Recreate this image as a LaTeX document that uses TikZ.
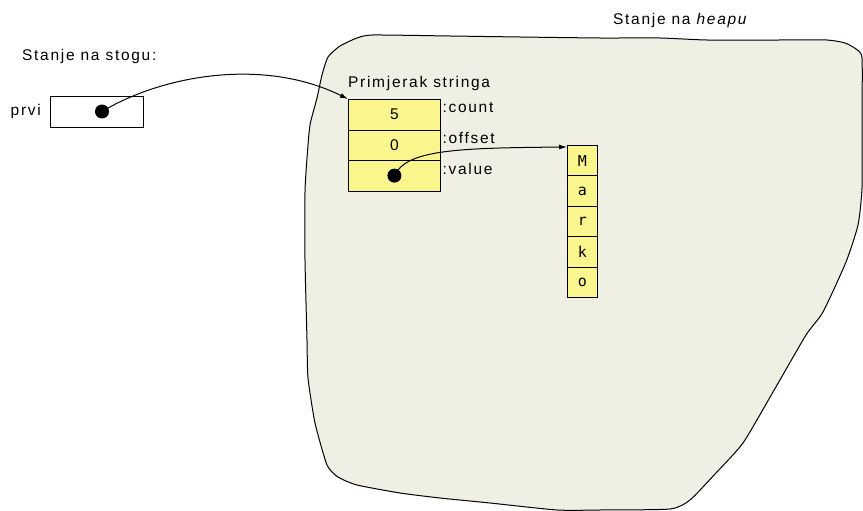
\documentclass[tikz,border=0pt]{standalone}
\usepackage{fontspec}
\setmainfont{Liberation Sans}[LetterSpace=11]
\setmonofont{DejaVu Sans Mono}
\usetikzlibrary{matrix,positioning,arrows.meta}
\definecolor{heapfill}{RGB}{240,239,228}
\definecolor{fieldfill}{RGB}{250,245,140}

\begin{document}
\begin{tikzpicture}[x=1pt, y=-1pt,
    font=\fontsize{15.5}{18}\selectfont,
    fld/.style={draw, fill=fieldfill, line width=0.8pt, anchor=center, outer sep=0, inner sep=0},
    dot/.style={circle, fill=black, minimum size=14pt, inner sep=0},
    lbl/.style={inner sep=2pt},
    ptr/.style={-{Latex[length=8pt,width=5pt]}, line width=1pt}
  ]
    \useasboundingbox (0,0) rectangle (863,511);
    \draw[fill=heapfill, line width=1pt] plot[smooth cycle, tension=0.35] coordinates {
        (373,35) (450,36) (520,37) (600,38) (660,38) (707,40) (780,40) (827,40)
        (845,43) (856,49) (862,58) (862,120) (862,188) (858,225) (846,262)
        (823,312) (806,335) (773,392) (743,443) (715,474) (690,500) (670,509)
        (600,510) (557,510) (490,503) (440,498) (400,493) (357,485) (338,477)
        (327,465) (315,423) (308,378) (307,340) (305,260) (305,192) (307,158)
        (310,125) (317,98) (322,75) (328,57) (340,46) (357,38)};
    \node[lbl, anchor=base west, inner sep=0] (stog) at (22,61) {Stanje na stogu:};
    \node[lbl, anchor=base west, inner sep=0] (heap) at (613,25) {Stanje na \textit{heapu}};
    \node[fld, fill=white, minimum width=93pt, minimum height=31pt] (prvi) at (96.5,111.5) {};
    \node[lbl, left=7pt of prvi] (prvilbl) {prvi};
    \node[dot] (d1) at ([xshift=5.5pt]prvi.center) {};
    \matrix (S) [matrix of nodes, anchor=north west, inner sep=0, outer sep=0,
        nodes={fld, minimum width=92pt, minimum height=30.5pt},
        row sep=-0.8pt, nodes in empty cells] at (348,99)
      {
        5 \\
        0 \\
          \\
      };
    \node[lbl, anchor=base west, inner sep=0] (inst) at ([yshift=11pt]S.north west) {Primjerak stringa};
    \node[lbl, anchor=west] (cnt) at ([yshift=-8.5pt]S-1-1.north east) {:count};
    \node[lbl, anchor=west] (off) at ([yshift=-8.5pt]S-2-1.north east) {:offset};
    \node[lbl, anchor=west] (val) at ([yshift=-8.5pt]S-3-1.north east) {:value};
    \node[dot] (d2) at (S-3-1) {};
    \matrix (M) [matrix of nodes, anchor=north west, inner sep=0, outer sep=0,
        nodes={fld, minimum width=30pt, minimum height=30.4pt, font=\ttfamily\fontsize{15}{17}\selectfont},
        row sep=-0.8pt] at (567,145)
      {
        M \\
        a \\
        r \\
        k \\
        o \\
      };
    \draw[ptr] (d1.center) .. controls +(60,-36) and +(-85,-42) .. (S.north west);
    \draw[ptr] (d2.center) .. controls +(12,-26) and +(-110,1) .. ([yshift=-2pt]M.north west);
  \end{tikzpicture}
\end{document}
